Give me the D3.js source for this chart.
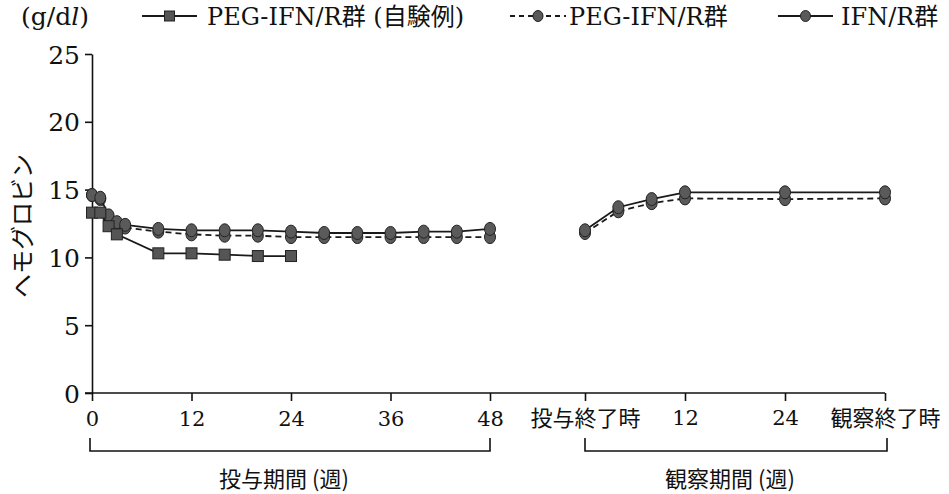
<!DOCTYPE html>
<meta charset="utf-8">
<style>
body { margin: 0; background: #fff; }
text { fill: #111; }
.serif { font-family: "DejaVu Serif", "Noto Sans CJK JP", serif; }
.jp { font-family: "Noto Sans CJK JP", sans-serif; }
.axis path, .axis line { stroke: #111; stroke-width: 1.6px; }
</style>
<svg width="949" height="494"></svg>
<script src="https://d3js.org/d3.v7.min.js"></script>
<script>

// treatment period (weeks)
var treatWeeks = [0, 1, 2, 3, 4, 8, 12, 16, 20, 24, 28, 32, 36, 40, 44, 48];
var pegHb = [14.6, 14.3, 12.9, 12.4, 12.2, 11.9, 11.7, 11.6, 11.6, 11.5, 11.5, 11.5, 11.5, 11.5, 11.5, 11.5];
var ifnHb = [14.6, 14.4, 13.1, 12.6, 12.4, 12.1, 12.0, 12.0, 12.0, 11.9, 11.8, 11.8, 11.8, 11.9, 11.9, 12.1];
var ownWeeks = [0, 1, 2, 3, 8, 12, 16, 20, 24];
var ownHb = [13.3, 13.3, 12.3, 11.7, 10.3, 10.3, 10.2, 10.1, 10.1];

// observation period (weeks after end of treatment)
var obsWeeks = [0, 4, 8, 12, 24, 36];
var pegObsHb = [11.8, 13.4, 14.0, 14.35, 14.3, 14.35];
var ifnObsHb = [12.0, 13.7, 14.3, 14.8, 14.8, 14.8];

var yTicks = [0, 5, 10, 15, 20, 25];
var treatTicks = [0, 12, 24, 36, 48];
var obsTicks = [0, 12, 24, 36];
var obsTickLabels = ["投与終了時", "12", "24", "観察終了時"];

var svg = d3.select("svg");

var y = d3.scaleLinear().domain([0, 25]).range([393, 54]);
var xT = d3.scaleLinear().domain([0, 48]).range([92, 490]);
var xO = d3.scaleLinear().domain([0, 36]).range([585, 885]);

// y axis
var yAxis = svg.append("g")
    .attr("class", "axis")
    .attr("transform", "translate(92,0)")
    .call(d3.axisLeft(y).tickValues(yTicks).tickSize(7).tickSizeOuter(0));
yAxis.selectAll("text")
    .attr("class", "serif")
    .style("font-size", "25px")
    .attr("x", -12)
    .attr("dy", "0.36em");

// x axis line across both periods
svg.append("line")
    .attr("x1", 85).attr("x2", xO(36))
    .attr("y1", 393).attr("y2", 393)
    .attr("stroke", "#111").attr("stroke-width", 1.6);

var xAxisT = svg.append("g")
    .attr("class", "axis")
    .attr("transform", "translate(0,393)")
    .call(d3.axisBottom(xT).tickValues(treatTicks).tickSize(8));
xAxisT.select(".domain").remove();
xAxisT.selectAll("text")
    .attr("class", "serif")
    .style("font-size", "21px")
    .attr("y", 18);

var xAxisO = svg.append("g")
    .attr("class", "axis")
    .attr("transform", "translate(0,393)")
    .call(d3.axisBottom(xO).tickValues(obsTicks).tickSize(8)
      .tickFormat(function(d, i) { return obsTickLabels[i]; }));
xAxisO.select(".domain").remove();
xAxisO.selectAll("text")
    .attr("class", function(d, i) { return (i == 0 || i == 3) ? "jp" : "serif"; })
    .style("font-size", function(d, i) { return (i == 0 || i == 3) ? "22px" : "21px"; })
    .attr("y", 17);

svg.selectAll(".axis text").attr("fill", "#111");

// period brackets
function bracket(x1, x2, label) {
  svg.append("path")
      .attr("d", "M" + x1 + ",438V451H" + x2 + "V438")
      .attr("fill", "none").attr("stroke", "#111").attr("stroke-width", 1.6);
  svg.append("text")
      .attr("class", "jp")
      .attr("x", (x1 + x2) / 2 - 6).attr("y", 487)
      .attr("text-anchor", "middle")
      .style("font-size", "22px")
      .text(label);
}
bracket(xT(0) - 2, xT(48), "投与期間 (週)");
bracket(xO(0), xO(36) + 2, "観察期間 (週)");

// y axis title
svg.append("text")
    .attr("class", "jp")
    .attr("transform", "translate(31,226) rotate(-90)")
    .attr("text-anchor", "middle")
    .style("font-size", "24px")
    .text("ヘモグロビン");

// unit
svg.append("text")
    .attr("class", "serif")
    .attr("x", 21).attr("y", 25)
    .style("font-size", "25px")
    .html("(g/d<tspan font-style='italic'>l</tspan>)");

var line = d3.line();

function drawSeries(xs, vals, xScale, dash, marker) {
  var pts = xs.map(function(w, i) { return [xScale(w), y(vals[i])]; });
  svg.append("path")
      .attr("d", line(pts))
      .attr("fill", "none")
      .attr("stroke", "#1a1a1a")
      .attr("stroke-width", 1.8)
      .attr("stroke-dasharray", dash ? "6,4" : null);
  var g = svg.append("g");
  if (marker == "square") {
    g.selectAll("rect").data(pts).enter().append("rect")
        .attr("x", function(d) { return d[0] - 5.5; })
        .attr("y", function(d) { return d[1] - 5.5; })
        .attr("width", 11).attr("height", 11)
        .attr("fill", "#555").attr("stroke", "#222").attr("stroke-width", 1);
  } else {
    g.selectAll("ellipse").data(pts).enter().append("ellipse")
        .attr("cx", function(d) { return d[0]; })
        .attr("cy", function(d) { return d[1]; })
        .attr("rx", 5.5).attr("ry", 6.5)
        .attr("fill", "#5a5a5a").attr("stroke", "#222").attr("stroke-width", 1);
  }
}

drawSeries(treatWeeks, pegHb, xT, true, "circle");
drawSeries(treatWeeks, ifnHb, xT, false, "circle");
drawSeries(ownWeeks, ownHb, xT, false, "square");
drawSeries(obsWeeks, pegObsHb, xO, true, "circle");
drawSeries(obsWeeks, ifnObsHb, xO, false, "circle");

// legend
var legend = [
  {x1: 142, x2: 197, label: "PEG-IFN/R群 (自験例)", dash: false, marker: "square", tx: 207},
  {x1: 510, x2: 566, label: "PEG-IFN/R群", dash: true, marker: "circle", tx: 569},
  {x1: 778, x2: 833, label: "IFN/R群", dash: false, marker: "circle", tx: 841}
];
legend.forEach(function(d) {
  svg.append("line")
      .attr("x1", d.x1).attr("x2", d.x2).attr("y1", 16).attr("y2", 16)
      .attr("stroke", "#1a1a1a").attr("stroke-width", 1.8)
      .attr("stroke-dasharray", d.dash ? "5,4" : null);
  var cx = (d.x1 + d.x2) / 2;
  if (d.marker == "square") {
    svg.append("rect").attr("x", cx - 5).attr("y", 11).attr("width", 10).attr("height", 10)
        .attr("fill", "#555").attr("stroke", "#222");
  } else {
    svg.append("ellipse").attr("cx", cx).attr("cy", 16).attr("rx", 5).attr("ry", 5.5)
        .attr("fill", "#5a5a5a").attr("stroke", "#222");
  }
  svg.append("text")
      .attr("class", "serif")
      .attr("x", d.tx).attr("y", 25)
      .style("font-size", "24px")
      .text(d.label);
});

</script>
